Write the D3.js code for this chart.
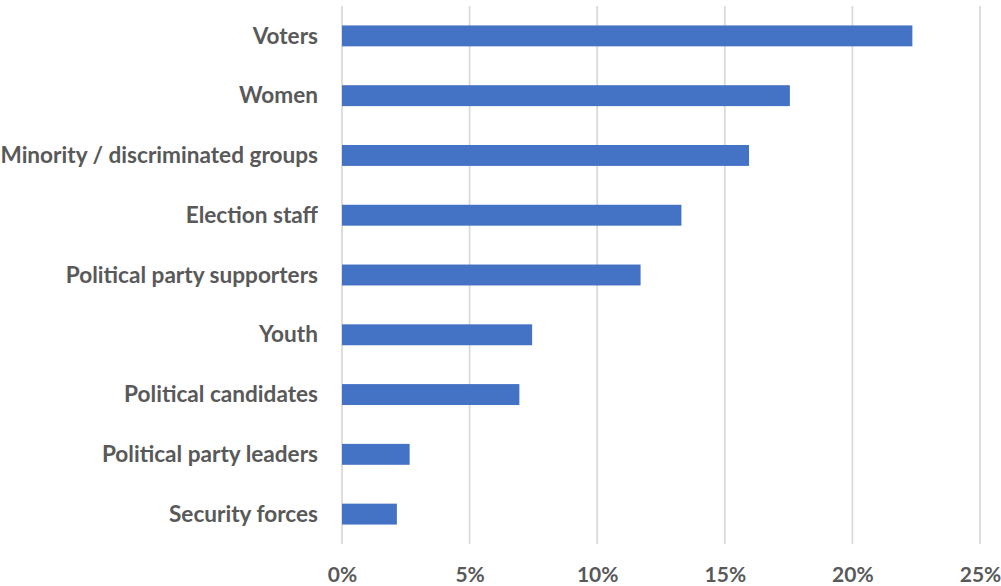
<!DOCTYPE html>
<html>
<head>
<meta charset="utf-8">
<script src="https://cdn.jsdelivr.net/npm/d3@7"></script>
<style>
  html, body { margin: 0; padding: 0; background: #fff; }
  svg { display: block; }
  text { font-family: Lato, "Open Sans", sans-serif; font-weight: 700; fill: #595959; }
</style>
</head>
<body>
<svg id="chart" width="1001" height="586"></svg>
<script>
// Target groups, top to bottom
const categories = [
  "Voters",
  "Women",
  "Minority / discriminated groups",
  "Election staff",
  "Political party supporters",
  "Youth",
  "Political candidates",
  "Political party leaders",
  "Security forces"
];
// Share of responses (%)
const values = [22.35, 17.55, 15.95, 13.3, 11.7, 7.45, 6.95, 2.65, 2.15];
const tickValues = [0, 5, 10, 15, 20, 25];

const svg = d3.select("#chart");
const margin = { top: 6, right: 21, bottom: 42, left: 342 };
const width = 1001 - margin.left - margin.right;
const height = 586 - margin.top - margin.bottom;

const x = d3.scaleLinear().domain([0, 25]).range([0, width]);
const y = d3.scaleBand().domain(categories).range([0, height]).paddingInner(0.65).paddingOuter(0.325);

const g = svg.append("g").attr("transform", `translate(${margin.left},${margin.top})`);

// Vertical gridlines
g.append("g")
  .selectAll("line")
  .data(tickValues)
  .join("line")
  .attr("x1", d => x(d)).attr("x2", d => x(d))
  .attr("y1", 0).attr("y2", height)
  .attr("stroke", "#d9d9d9")
  .attr("stroke-width", 1.75);

// Bars
g.append("g")
  .selectAll("rect")
  .data(values)
  .join("rect")
  .attr("x", x(0))
  .attr("y", (d, i) => y(categories[i]))
  .attr("width", d => x(d) - x(0))
  .attr("height", y.bandwidth())
  .attr("fill", "#4472c4");

// Category axis (labels only)
const yAxis = g.append("g")
  .call(d3.axisLeft(y).tickSize(0).tickPadding(24));
yAxis.select(".domain").remove();
yAxis.selectAll("text")
  .attr("font-size", 22.6)
  .attr("dy", "0.34em")
  .attr("fill", "#595959")
  .style("font-family", "Lato, 'Open Sans', sans-serif")
  .style("font-weight", 700);

// Percentage axis (labels only)
const xAxis = g.append("g")
  .attr("transform", `translate(0,${height})`)
  .call(d3.axisBottom(x).tickValues(tickValues).tickFormat(d => d + "%").tickSize(0).tickPadding(23));
xAxis.select(".domain").remove();
xAxis.selectAll("text")
  .attr("font-size", 21)
  .attr("fill", "#595959")
  .style("font-family", "Lato, 'Open Sans', sans-serif")
  .style("font-weight", 700);
</script>
</body>
</html>
